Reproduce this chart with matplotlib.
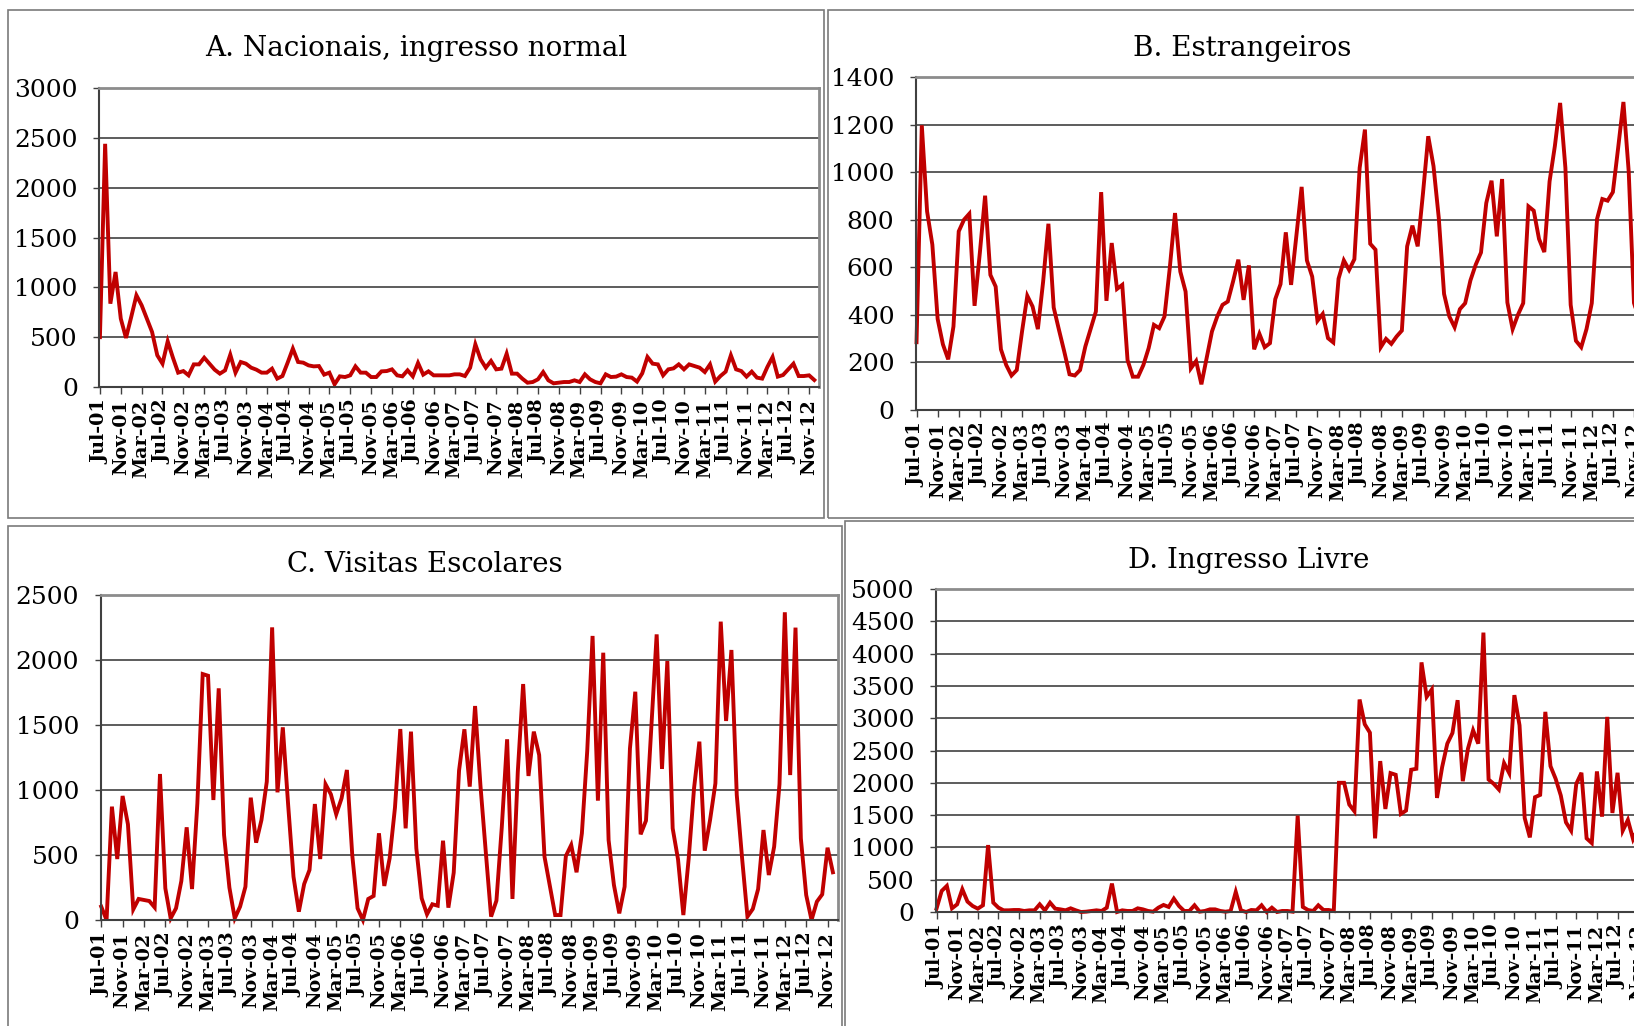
import matplotlib
matplotlib.use("Agg")
import matplotlib.pyplot as plt
from matplotlib.patches import Rectangle
import numpy as np
import pandas as pd

plt.rcParams['font.family'] = ['DejaVu Serif']

# monthly visitors, Jul-2001 .. Dec-2012
months = pd.date_range("2001-07-01", "2012-12-01", freq="MS")
month_labels = [d.strftime("%b-%y") for d in months]

nacionais = [500, 2440, 836, 1154, 686, 492, 702, 920, 820, 686,
             552, 318, 234, 458, 294, 144, 160, 117, 227, 227,
             294, 234, 174, 134, 167, 324, 144, 251, 234, 194,
             174, 144, 144, 184, 84, 110, 244, 385, 251, 244,
             217, 207, 210, 124, 144, 27, 107, 100, 117, 207,
             144, 144, 100, 100, 157, 160, 177, 117, 107, 167,
             107, 241, 124, 157, 117, 117, 117, 117, 127, 127,
             110, 194, 428, 278, 194, 261, 177, 184, 334, 134,
             134, 84, 43, 50, 77, 150, 67, 37, 43, 50,
             50, 67, 50, 127, 77, 50, 37, 127, 100, 104,
             127, 100, 94, 54, 137, 301, 234, 227, 117, 177,
             187, 227, 177, 227, 211, 194, 150, 227, 54, 110,
             154, 318, 177, 160, 104, 154, 94, 84, 201, 301,
             104, 120, 177, 234, 110, 110, 117, 70]

estrangeiros = [285, 1197, 835, 695, 383, 276, 213, 351, 751, 800,
                825, 438, 660, 901, 568, 519, 255, 189, 145, 168,
                330, 480, 435, 340, 540, 783, 431, 337, 246, 150,
                145, 168, 267, 340, 414, 916, 459, 702, 509, 526,
                210, 140, 140, 189, 260, 358, 344, 393, 596, 828,
                582, 498, 175, 206, 108, 218, 330, 393, 442, 456,
                540, 632, 463, 608, 255, 320, 264, 281, 466, 529,
                747, 526, 730, 938, 629, 561, 375, 404, 302, 284,
                552, 629, 589, 634, 1018, 1179, 699, 674, 264, 299,
                278, 309, 334, 688, 775, 688, 910, 1151, 1025, 807,
                488, 393, 348, 424, 449, 545, 611, 662, 870, 964,
                730, 971, 452, 340, 400, 449, 856, 838, 719, 664,
                961, 1109, 1291, 1018, 442, 291, 264, 340, 449, 803,
                887, 880, 916, 1102, 1295, 1003, 450, 380]

escolares = [103, 0, 872, 469, 954, 736, 82, 162, 154, 146,
             97, 1123, 244, 13, 90, 300, 713, 238, 897, 1892,
             1879, 923, 1782, 654, 249, 13, 103, 256, 941, 595,
             769, 1064, 2251, 982, 1482, 885, 333, 64, 277, 385,
             892, 469, 1044, 967, 813, 936, 1154, 500, 90, 0,
             162, 185, 667, 262, 474, 864, 1469, 705, 1449, 551,
             167, 44, 121, 110, 610, 95, 364, 1150, 1467, 1026,
             1646, 1038, 526, 26, 149, 713, 1390, 162, 1141, 1815,
             1108, 1449, 1269, 487, 262, 38, 38, 492, 577, 367,
             667, 1300, 2185, 918, 2056, 615, 269, 51, 256, 1320,
             1756, 659, 764, 1474, 2197, 1162, 1992, 705, 467, 38,
             474, 1013, 1372, 533, 769, 1051, 2295, 1531, 2077, 962,
             474, 26, 85, 238, 692, 346, 564, 1044, 2367, 1115,
             2249, 628, 192, 0, 141, 197, 556, 367]

livre = [52, 326, 404, 57, 119, 352, 161, 93, 52, 104,
         1036, 145, 67, 26, 26, 31, 31, 16, 26, 26,
         119, 26, 145, 52, 41, 26, 57, 26, 0, 5,
         16, 26, 16, 67, 440, 0, 26, 16, 16, 57,
         41, 16, 5, 67, 109, 78, 207, 93, 16, 16,
         104, 5, 16, 41, 41, 16, 5, 16, 311, 26,
         0, 31, 26, 104, 0, 67, 0, 16, 16, 5,
         1492, 78, 31, 16, 104, 31, 31, 16, 2000, 2000,
         1663, 1559, 3289, 2906, 2776, 1140, 2336, 1595, 2150, 2124,
         1518, 1570, 2202, 2217, 3864, 3331, 3445, 1766, 2243, 2606,
         2771, 3279, 2025, 2528, 2813, 2606, 4325, 2051, 1984, 1896,
         2305, 2150, 3357, 2890, 1456, 1155, 1777, 1813, 3098, 2258,
         2062, 1803, 1388, 1259, 1984, 2155, 1140, 1067, 2176, 1476,
         3020, 1533, 2155, 1259, 1425, 1129, 1300, 1200]

W, H = 1634, 1026
fig = plt.figure(figsize=(W / 100, H / 100), dpi=100)

RED = "#c00000"


def box(x0, y0, x1, y1):
    fig.patches.append(Rectangle((x0 / W, 1 - y1 / H), (x1 - x0) / W, (y1 - y0) / H,
                                 transform=fig.transFigure, fill=False,
                                 ec="#7a7a7a", lw=1.2))


def panel(values, title, ymax, step, left, top, right, zero, title_xy):
    ax = fig.add_axes([left / W, 1 - zero / H, (right - left) / W, (zero - top) / H])
    x = np.arange(len(values))
    ax.plot(x, values, color=RED, lw=2.8, solid_joinstyle="miter", clip_on=False)
    ax.set_xlim(-0.1, 137.9)
    ax.set_ylim(0, ymax)
    ax.set_yticks(np.arange(0, ymax + 1, step))
    ax.set_yticklabels([str(v) for v in range(0, ymax + 1, step)], fontsize=18)
    ticks = x[::4]
    ax.set_xticks(ticks)
    ax.set_xticklabels([month_labels[i] for i in ticks], rotation=90,
                       fontsize=13.8, fontweight="bold", va="top", ha="center")
    ax.grid(axis="y", color="#303030", lw=1.1)
    ax.set_axisbelow(True)
    for s in ("top", "right"):
        ax.spines[s].set_color("#8c8c8c")
        ax.spines[s].set_linewidth(2.0)
    for s in ("left", "bottom"):
        ax.spines[s].set_color("#404040")
        ax.spines[s].set_linewidth(1.5)
    ax.tick_params(axis="y", length=4.5, width=1.0, color="#404040", pad=11)
    ax.tick_params(axis="x", length=5, width=1.0, color="#404040", pad=4)
    fig.text(title_xy[0] / W, 1 - title_xy[1] / H, title, ha="center", va="center",
             fontsize=20)
    return ax


box(8, 10, 824, 518)
box(828, 10, 1660, 518)
box(8, 526, 842, 1060)
box(845, 521, 1660, 1060)

panel(nacionais, "A. Nacionais, ingresso normal", 3000, 500,
      99.4, 88, 819, 387, (416, 49))
panel(estrangeiros, "B. Estrangeiros", 1400, 200,
      916, 77, 1644, 410, (1242, 49))
panel(escolares, "C. Visitas Escolares", 2500, 500,
      100.7, 595, 837.7, 920, (425, 565))
panel(livre, "D. Ingresso Livre", 5000, 500,
      936, 589, 1648, 912, (1249, 561))

fig.savefig("out.png", dpi=100)
